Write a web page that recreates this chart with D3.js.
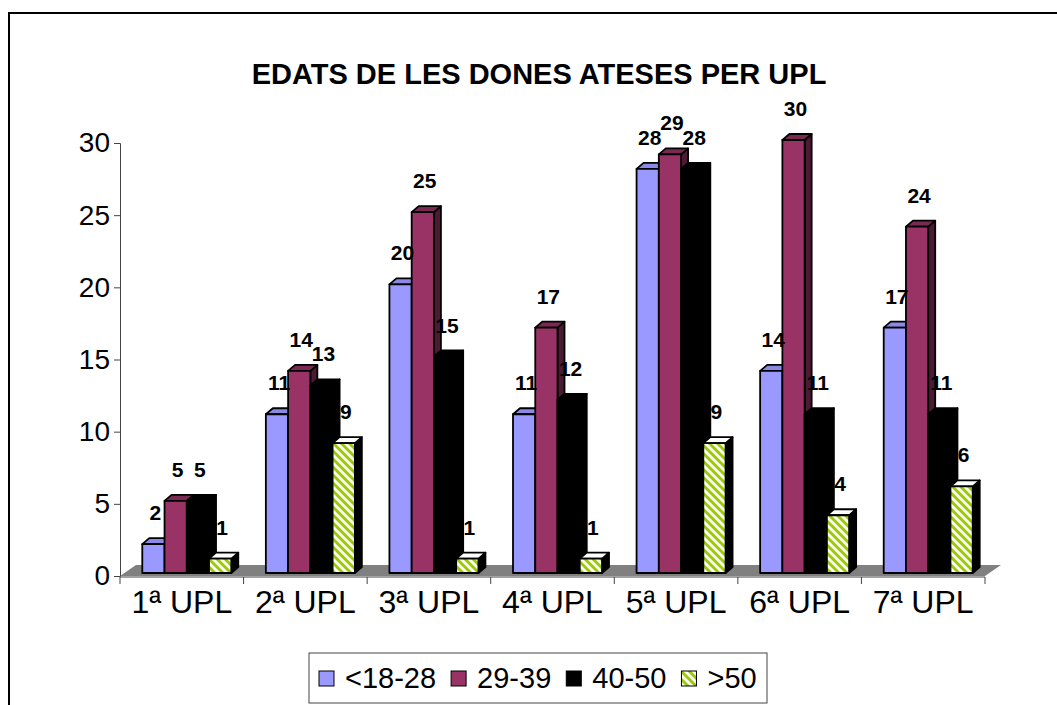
<!DOCTYPE html>
<html>
<head>
<meta charset="utf-8">
<script src="https://cdn.jsdelivr.net/npm/d3@7"></script>
<style>
  body { margin: 0; background: #fff; }
  svg { display: block; font-family: "Liberation Sans", Arial, sans-serif; }
</style>
</head>
<body>
<svg width="1057" height="705"></svg>
<script>
// data
var categories = ["1ª UPL", "2ª UPL", "3ª UPL", "4ª UPL", "5ª UPL", "6ª UPL", "7ª UPL"];
var seriesNames = ["<18-28", "29-39", "40-50", ">50"];
var age18_28 = [2, 11, 20, 11, 28, 14, 17];
var age29_39 = [5, 14, 25, 17, 29, 30, 24];
var age40_50 = [5, 13, 15, 12, 28, 11, 11];
var age50plus = [1, 9, 1, 1, 9, 4, 6];
var yTicks = [0, 5, 10, 15, 20, 25, 30];

var seriesValues = [age18_28, age29_39, age40_50, age50plus];

var svg = d3.select("svg");

// chart frame
svg.append("rect")
	.attr("x", 9).attr("y", 13)
	.attr("width", 1100).attr("height", 760)
	.attr("fill", "none")
	.attr("stroke", "#000")
	.attr("stroke-width", 2);

// pattern for the >50 series
var defs = svg.append("defs");
var pat = defs.append("pattern")
	.attr("id", "stripes")
	.attr("patternUnits", "userSpaceOnUse")
	.attr("width", 8).attr("height", 8);
pat.append("rect").attr("width", 8).attr("height", 8).attr("fill", "#fff");
pat.append("path")
	.attr("d", "M0,0L4,0L8,4L8,8Z M0,4L4,8L0,8Z")
	.attr("fill", "#99cc00");

var fills = [
	{front: "#9999ff", top: "#8a8ae6", side: "#4c4c80"},
	{front: "#993366", top: "#7a2952", side: "#4d1a33"},
	{front: "#000000", top: "#000000", side: "#000000"},
	{front: "url(#stripes)", top: "#ffffff", side: "#000000"}
];

var left = 120, right = 985, base = 576, topY = 143;

var y = d3.scaleLinear().domain([0, 30]).range([base, topY]);
var x0 = d3.scaleBand().domain(categories).range([left, right]);
var x1 = d3.scaleBand().domain(seriesNames).range([0, 89]);

// floor depth and bar depth
var fdx = 16, fdy = -11;
var offX = 5, offY = -3;
var bdx = 7, bdy = -6;

// title
svg.append("text")
	.attr("x", 539).attr("y", 84)
	.attr("text-anchor", "middle")
	.style("font-size", "29px")
	.style("font-weight", "bold")
	.text("EDATS DE LES DONES ATESES PER UPL");

// floor
svg.append("path")
	.attr("d", "M" + left + "," + base + "L" + right + "," + base +
		"L" + (right + fdx) + "," + (base + fdy) + "L" + (left + fdx) + "," + (base + fdy) + "Z")
	.attr("fill", "#808080");

// y axis
var yAxis = d3.axisLeft(y).tickValues(yTicks).tickSize(6).tickPadding(4);
var gy = svg.append("g").attr("transform", "translate(" + left + ",0)").call(yAxis);
gy.select(".domain").attr("stroke", "#444");
gy.selectAll(".tick line").attr("stroke", "#444");
gy.selectAll(".tick text")
	.attr("font-family", null)
	.style("font-size", "28px")
	.attr("fill", "#000");

// x axis line with ticks on category boundaries
var bounds = categories.map(function(c) { return x0(c); }).concat([right]);
svg.append("line")
	.attr("x1", left).attr("x2", right)
	.attr("y1", base + 1).attr("y2", base + 1)
	.attr("stroke", "#444");
svg.append("g").selectAll("line")
	.data(bounds)
	.enter()
	.append("line")
	.attr("x1", function(d) { return d; })
	.attr("x2", function(d) { return d; })
	.attr("y1", base + 1).attr("y2", base + 8)
	.attr("stroke", "#444");
svg.append("g").selectAll("text")
	.data(categories)
	.enter()
	.append("text")
	.attr("x", function(d) { return x0(d) + x0.bandwidth() / 2; })
	.attr("y", 613)
	.attr("text-anchor", "middle")
	.style("font-size", "32px")
	.text(function(d) { return d; });

// bars
var pad = (x0.bandwidth() - 89) / 2;
var bars = [];
categories.forEach(function(c, ci) {
	seriesNames.forEach(function(s, si) {
		bars.push({cat: c, series: si, value: seriesValues[si][ci],
			x: x0(c) + pad + x1(s) + offX});
	});
});

var bw = x1.bandwidth();
var gBars = svg.append("g");
bars.forEach(function(b) {
	var x = b.x, yb = base + offY, yt = y(b.value) + offY, f = fills[b.series];
	var g = gBars.append("g")
		.attr("stroke", "#000")
		.attr("stroke-width", 1.8)
		.attr("stroke-linejoin", "round");
	g.append("path")
		.attr("d", "M" + (x + bw) + "," + yb + "L" + (x + bw + bdx) + "," + (yb + bdy) +
			"L" + (x + bw + bdx) + "," + (yt + bdy) + "L" + (x + bw) + "," + yt + "Z")
		.attr("fill", f.side);
	g.append("path")
		.attr("d", "M" + x + "," + yt + "L" + (x + bdx) + "," + (yt + bdy) +
			"L" + (x + bw + bdx) + "," + (yt + bdy) + "L" + (x + bw) + "," + yt + "Z")
		.attr("fill", f.top);
	g.append("rect")
		.attr("x", x).attr("y", yt)
		.attr("width", bw).attr("height", yb - yt)
		.attr("fill", f.front);
});

// value labels
svg.append("g").selectAll("text")
	.data(bars)
	.enter()
	.append("text")
	.attr("x", function(d) { return d.x + bw / 2 + 2; })
	.attr("y", function(d) { return y(d.value) + offY - 24; })
	.attr("text-anchor", "middle")
	.style("font-size", "21px")
	.style("font-weight", "bold")
	.text(function(d) { return d.value; });

// legend
var lg = svg.append("g");
lg.append("rect")
	.attr("x", 309).attr("y", 653)
	.attr("width", 458).attr("height", 50)
	.attr("fill", "#fff")
	.attr("stroke", "#444")
	.attr("stroke-width", 1);
var lx = 319;
seriesNames.forEach(function(s, i) {
	lg.append("rect")
		.attr("x", lx).attr("y", 671)
		.attr("width", 15).attr("height", 15)
		.attr("fill", fills[i].front)
		.attr("stroke", "#000")
		.attr("stroke-width", 1);
	var t = lg.append("text")
		.attr("x", lx + 26).attr("y", 688)
		.style("font-size", "29px")
		.text(s);
	lx += 26 + t.node().getComputedTextLength() + 15;
});
</script>
</body>
</html>
